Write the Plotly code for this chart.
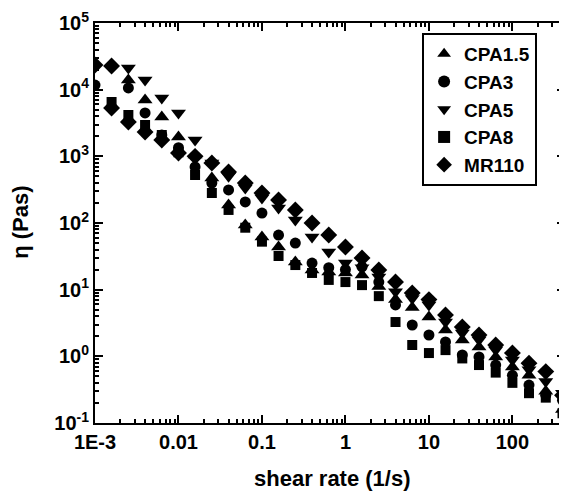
import plotly.graph_objects as go

# shear rate columns (1/s), 5 points per decade from 1E-3
shear_rate = [0.001, 0.00158, 0.00251, 0.00398, 0.00631,
              0.01, 0.0158, 0.0251, 0.0398, 0.0631,
              0.1, 0.158, 0.251, 0.398, 0.631,
              1.0, 1.58, 2.51, 3.98, 6.31,
              10.0, 15.8, 25.1, 39.8, 63.1,
              100.0, 158.0, 251.0, 398.0]

cpa15 = [None, None, 14000, 7000, 3890, 1950, 1050, 473, 186, 93,
         61.7, 43.6, 26, 19.7, 18.4, 17.8, 16.6, 11.2, 7.1, 5.4,
         3.9, 2.48, 1.76, 1.38, 0.98, 0.69, 0.52, 0.30, 0.16]
cpa3 = [11700, None, 10600, 4470, 2090, 1350, 692, 398, 313, 207,
        141, 66, 50, 25.1, 21.4, 20, 21.9, 13, 5.9, 2.95,
        2.09, 1.64, 1.05, 0.98, 0.74, 0.52, 0.37, 0.26, 0.22]
cpa5 = [None, None, 21100, 14000, 7500, 4470, 1760, 794, 501, 335,
        237, 168, 111, 61.7, 36.7, 25.1, 21.4, 15.5, 9.3, 7.4,
        5.9, 3.27, 2.24, 1.76, 1.24, 0.88, 0.63, 0.42, 0.28]
cpa8 = [None, 6530, 4170, 2950, 2090, 1150, 525, 282, 157, 85,
        52.5, 32, 23.4, 17.8, 14, 13, 11.7, 8, 3.27, 1.48,
        1.12, 1.24, 0.93, 0.74, 0.57, 0.40, 0.28, 0.24, 0.14]
mr110 = [23400, 5300, 3270, 2320, 1760, 1120, 1000, 794, 582, 398,
         282, 221, 157, 100, 66, 43.6, 29.9, 19.7, 13, 8.9,
         7.1, 4.17, 2.75, 2.09, 1.48, 1.12, 0.79, 0.59, 0.26]
mr110_extra_x = [0.00158]
mr110_extra_y = [22600]

x_tickvals = [0.001, 0.01, 0.1, 1, 10, 100]
x_ticktext = ["1E-3", "0.01", "0.1", "1", "10", "100"]
y_tickvals = [0.1, 1, 10, 100, 1000, 10000, 100000]
y_ticktext = ["10<sup>-1</sup>", "10<sup>0</sup>", "10<sup>1</sup>", "10<sup>2</sup>",
              "10<sup>3</sup>", "10<sup>4</sup>", "10<sup>5</sup>"]

series = [
    ("CPA1.5", shear_rate, cpa15, "triangle-up", 13),
    ("CPA3", shear_rate, cpa3, "circle", 11),
    ("CPA5", shear_rate, cpa5, "triangle-down", 13),
    ("CPA8", shear_rate, cpa8, "square", 10),
    ("MR110", shear_rate + mr110_extra_x, mr110 + mr110_extra_y, "diamond", 13),
]

fig = go.Figure()
for name, xs, ys, sym, size in series:
    fig.add_trace(go.Scatter(
        x=xs, y=ys, mode="markers", name=name,
        marker=dict(symbol=sym, color="black", size=size, line=dict(width=0)),
    ))

font_main = dict(family="Liberation Sans, Arial, sans-serif", color="black")
axis_common = dict(
    type="log", showgrid=False, zeroline=False, automargin=False,
    showline=True, linecolor="black", linewidth=2, mirror="ticks",
    ticks="inside", ticklen=8, tickwidth=2, tickcolor="black",
    minor=dict(ticks="inside", ticklen=4, tickwidth=1.5, tickcolor="black",
               showgrid=False, dtick="D1"),
    tickfont=dict(size=20, weight="bold", **font_main),
)

fig.update_layout(
    width=567, height=496,
    margin=dict(l=87, r=10, t=15, b=81),
    paper_bgcolor="white", plot_bgcolor="white",
    font=font_main,
    xaxis=dict(range=[-3, 2.63], tickvals=x_tickvals, ticktext=x_ticktext, **axis_common),
    yaxis=dict(range=[-1, 5], tickvals=y_tickvals, ticktext=y_ticktext, **axis_common),
    legend=dict(x=0.696, y=0.975, xanchor="left", yanchor="top",
                bgcolor="white", bordercolor="black", borderwidth=2,
                font=dict(size=19, weight="bold", **font_main),
                itemsizing="constant", tracegroupgap=0),
    showlegend=True,
    annotations=[
        dict(text="shear rate (1/s)", xref="paper", yref="paper", x=0.506, y=-0.1375,
             xanchor="center", yanchor="middle", showarrow=False,
             font=dict(size=22, weight="bold", **font_main)),
        dict(text="η (Pas)", xref="paper", yref="paper", x=-0.16, y=0.5025,
             xanchor="center", yanchor="middle", showarrow=False, textangle=-90,
             font=dict(size=22, weight="bold", **font_main)),
    ],
)

fig.write_html("out.html")
